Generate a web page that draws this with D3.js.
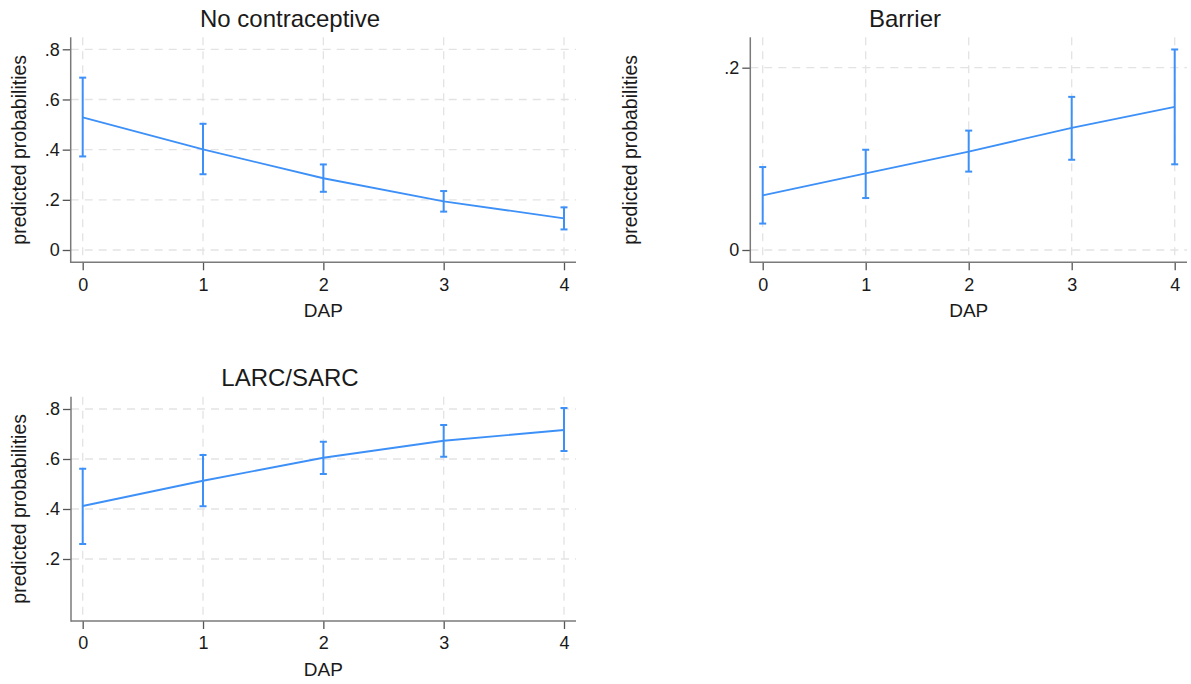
<!DOCTYPE html>
<html lang="en">
<head>
<meta charset="utf-8">
<title>Predicted probabilities by DAP</title>
<script src="https://d3js.org/d3.v7.min.js"></script>
<style>
  body { margin: 0; background: #fff; }
  text { font-family: "Liberation Sans", Arial, Helvetica, sans-serif; fill: #1a1a1a; }
</style>
</head>
<body>
<script>
// data
var dap = [0, 1, 2, 3, 4];

var noContraceptive   = [0.529, 0.401, 0.286, 0.194, 0.126];
var noContraceptiveLo = [0.373, 0.302, 0.232, 0.153, 0.082];
var noContraceptiveHi = [0.687, 0.503, 0.341, 0.235, 0.170];

var barrier   = [0.060, 0.084, 0.108, 0.134, 0.157];
var barrierLo = [0.029, 0.057, 0.086, 0.099, 0.094];
var barrierHi = [0.091, 0.110, 0.131, 0.168, 0.220];

var larcSarc   = [0.412, 0.513, 0.605, 0.673, 0.716];
var larcSarcLo = [0.260, 0.411, 0.540, 0.609, 0.632];
var larcSarcHi = [0.561, 0.616, 0.669, 0.736, 0.804];

var titles = ["No contraceptive", "Barrier", "LARC/SARC"];
var yTicks1 = [0, 0.2, 0.4, 0.6, 0.8];
var yTicks2 = [0, 0.2];
var yTicks3 = [0.2, 0.4, 0.6, 0.8];

var width = 1191, height = 684;
var blue = "#3d90f7";

var svg = d3.select("body").append("svg")
    .attr("width", width)
    .attr("height", height);

// stata style labels: .8 instead of 0.8
function fmt(d) {
  return d === 0 ? "0" : d3.format(".1f")(d).replace(/^0/, "");
}

// box = where the axes sit; xr/yr = pixel ranges of the data scales
var panels = [
  { title: titles[0], est: noContraceptive, lo: noContraceptiveLo, hi: noContraceptiveHi, yTicks: yTicks1,
    left: 70.7, right: 576, top: 37.3, bottom: 262.3,
    xr: [82.7, 564], yd: [0, 0.8], yr: [250, 49.3],
    titleX: 290, titleY: 27.3, ylabX: 20, tickY: 291, dapY: 316.5 },
  { title: titles[1], est: barrier, lo: barrierLo, hi: barrierHi, yTicks: yTicks2,
    left: 750.3, right: 1187, top: 37.3, bottom: 262.3,
    xr: [762.7, 1174.7], yd: [0, 0.2], yr: [250, 67.7],
    titleX: 905, titleY: 27.3, ylabX: 631, tickY: 291, dapY: 316.5 },
  { title: titles[2], est: larcSarc, lo: larcSarcLo, hi: larcSarcHi, yTicks: yTicks3,
    left: 71, right: 576, top: 396.7, bottom: 621,
    xr: [82.7, 564], yd: [0.2, 0.8], yr: [559, 409],
    titleX: 290, titleY: 386, ylabX: 20, tickY: 649, dapY: 675.5 }
];

panels.forEach(function(p) {
  var x = d3.scaleLinear().domain([0, 4]).range(p.xr);
  var y = d3.scaleLinear().domain(p.yd).range(p.yr);
  var g = svg.append("g");

  // grid
  g.selectAll(".hgrid").data(p.yTicks).enter().append("line")
      .attr("x1", p.left).attr("x2", p.right)
      .attr("y1", function(d) { return y(d); })
      .attr("y2", function(d) { return y(d); })
      .style("stroke", "#e3e3e3").style("stroke-width", 1.3)
      .style("stroke-dasharray", "8,6");
  g.selectAll(".vgrid").data(dap).enter().append("line")
      .attr("x1", function(d) { return x(d); })
      .attr("x2", function(d) { return x(d); })
      .attr("y1", p.top).attr("y2", p.bottom)
      .style("stroke", "#e3e3e3").style("stroke-width", 1.3)
      .style("stroke-dasharray", "8,6");

  // axes
  var yAxis = g.append("g")
      .attr("transform", "translate(" + p.left + ",0)")
      .call(d3.axisLeft(y).tickValues(p.yTicks).tickFormat(fmt).tickSize(8).tickSizeOuter(0).tickPadding(3));
  var xAxis = g.append("g")
      .attr("transform", "translate(0," + p.bottom + ")")
      .call(d3.axisBottom(x).tickValues(dap).tickFormat(d3.format("d")).tickSize(8).tickSizeOuter(0).tickPadding(6));
  [yAxis, xAxis].forEach(function(a) {
    a.select(".domain").remove();
    a.selectAll(".tick line").style("stroke", "#555").style("stroke-width", 1.3);
    a.selectAll(".tick text").style("font-size", "18px").style("fill", "#1a1a1a")
        .style("font-family", "'Liberation Sans', Arial, sans-serif");
  });
  xAxis.selectAll(".tick text").attr("dy", null).attr("y", p.tickY - p.bottom);

  g.append("line")
      .attr("x1", p.left).attr("x2", p.left).attr("y1", p.top).attr("y2", p.bottom + 0.7)
      .style("stroke", "#7a7a7a").style("stroke-width", 1.5);
  g.append("line")
      .attr("x1", p.left).attr("x2", p.right).attr("y1", p.bottom).attr("y2", p.bottom)
      .style("stroke", "#7a7a7a").style("stroke-width", 1.5);

  // error bars
  var bars = g.selectAll(".ci").data(dap).enter().append("g");
  bars.append("line")
      .attr("x1", function(d) { return x(d); })
      .attr("x2", function(d) { return x(d); })
      .attr("y1", function(d, i) { return y(p.lo[i]); })
      .attr("y2", function(d, i) { return y(p.hi[i]); })
      .style("stroke", blue).style("stroke-width", 2);
  ["lo", "hi"].forEach(function(k) {
    bars.append("line")
        .attr("x1", function(d) { return x(d) - 3.5; })
        .attr("x2", function(d) { return x(d) + 3.5; })
        .attr("y1", function(d, i) { return y(p[k][i]); })
        .attr("y2", function(d, i) { return y(p[k][i]); })
        .style("stroke", blue).style("stroke-width", 2);
  });

  // fitted line
  var line = d3.line()
      .x(function(d) { return x(d); })
      .y(function(d, i) { return y(p.est[i]); });
  g.append("path")
      .datum(dap)
      .attr("d", line)
      .style("fill", "none")
      .style("stroke", blue)
      .style("stroke-width", 1.8);

  // texts
  g.append("text")
      .attr("x", p.titleX).attr("y", p.titleY)
      .attr("text-anchor", "middle")
      .style("font-size", "24px")
      .text(p.title);
  g.append("text")
      .attr("transform", "translate(" + (p.ylabX + 6) + "," + (p.top + p.bottom) / 2 + ") rotate(-90)")
      .attr("text-anchor", "middle")
      .style("font-size", "19.5px")
      .text("predicted probabilities");
  g.append("text")
      .attr("x", (p.xr[0] + p.xr[1]) / 2).attr("y", p.dapY)
      .attr("text-anchor", "middle")
      .style("font-size", "19px")
      .text("DAP");
});
</script>
</body>
</html>
